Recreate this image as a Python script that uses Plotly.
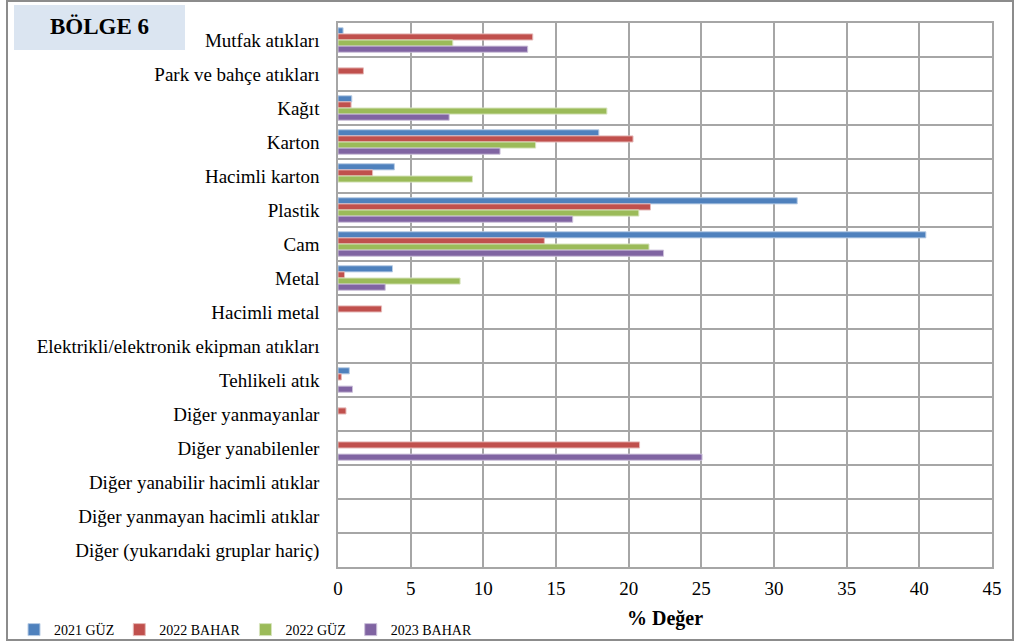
import plotly.graph_objects as go

categories = [
    "Mutfak atıkları",
    "Park ve bahçe atıkları",
    "Kağıt",
    "Karton",
    "Hacimli karton",
    "Plastik",
    "Cam",
    "Metal",
    "Hacimli metal",
    "Elektrikli/elektronik ekipman atıkları",
    "Tehlikeli atık",
    "Diğer yanmayanlar",
    "Diğer yanabilenler",
    "Diğer yanabilir hacimli atıklar",
    "Diğer yanmayan hacimli atıklar",
    "Diğer (yukarıdaki gruplar hariç)",
]

series_names = ["2021 GÜZ", "2022 BAHAR", "2022 GÜZ", "2023 BAHAR"]

guz_2021 = [0.35, None, 0.95, 17.95, 3.88, 31.6, 40.45, 3.75, None, None, 0.78, None, None, None, None, None]
bahar_2022 = [13.4, 1.75, 0.9, 20.3, 2.38, 21.5, 14.2, 0.45, 3.0, None, 0.23, 0.55, 20.75, None, None, None]
guz_2022 = [7.9, None, 18.5, 13.6, 9.25, 20.7, 21.4, 8.4, None, None, None, None, None, None, None, None]
bahar_2023 = [13.05, None, 7.65, 11.15, None, 16.15, 22.4, 3.25, None, None, 1.0, None, 25.05, None, None, None]

series_values = [guz_2021, bahar_2022, guz_2022, bahar_2023]
colors = ["#4f81bd", "#c0504d", "#9bbb59", "#8064a2"]
edge_colors = ["#b9cde5", "#e6b9b8", "#d7e4bd", "#ccc1da"]

x_ticks = [0, 5, 10, 15, 20, 25, 30, 35, 40, 45]

FONT = "Liberation Serif"

fig = go.Figure()
for name, vals, c, ec in zip(series_names, series_values, colors, edge_colors):
    fig.add_trace(go.Bar(
        y=categories, x=vals, name=name, orientation="h",
        marker=dict(color=c, line=dict(color=ec, width=1)),
    ))

L, R, T, B = 338, 24, 23, 75
W, H = 1016, 642
pw, ph = W - L - R, H - T - B

def px(xp):
    return (xp - L) / pw

def py(yp):
    return (H - B - yp) / ph

fig.update_layout(
    width=W, height=H,
    margin=dict(l=L, r=R, t=T, b=B, pad=0, autoexpand=False),
    paper_bgcolor="white", plot_bgcolor="white",
    barmode="group", bargap=0.28, bargroupgap=0,
    font=dict(family=FONT, color="black", size=19),
    xaxis=dict(
        range=[0, 45], tickvals=x_ticks, showgrid=True, gridcolor="#a6a6a6", gridwidth=1.5,
        zeroline=False, showline=True, linecolor="#a6a6a6", linewidth=1.5, mirror=True,
        ticks="", tickfont=dict(size=19, family=FONT), ticklabelstandoff=3,
        title=dict(text="<b>% Değer</b>", font=dict(size=20, family=FONT), standoff=13),
        automargin=False,
    ),
    yaxis=dict(
        type="category", autorange="reversed", tickson="boundaries",
        showgrid=True, gridcolor="#a6a6a6", gridwidth=1.5,
        showline=True, linecolor="#a6a6a6", linewidth=1.5, mirror=True,
        ticks="", tickfont=dict(size=19, family=FONT), ticklabelstandoff=13,
        automargin=False,
    ),
    legend=dict(
        orientation="h", x=px(14), y=py(630), xanchor="left", yanchor="middle",
        font=dict(size=14, family=FONT), bgcolor="rgba(0,0,0,0)",
        itemwidth=30, tracegroupgap=0, traceorder="normal",
    ),
    showlegend=True,
)

# outer chart frame
fig.add_shape(type="rect", xref="paper", yref="paper",
              x0=px(7), x1=px(1013), y0=py(640), y1=py(1),
              line=dict(color="#8c8c8c", width=2), fillcolor="rgba(0,0,0,0)", layer="below")

# title box
fig.add_shape(type="rect", xref="paper", yref="paper",
              x0=px(14), x1=px(185), y0=py(50), y1=py(5),
              line=dict(width=0), fillcolor="#dbe5f1", layer="below")
fig.add_annotation(text="<b>BÖLGE 6</b>", xref="paper", yref="paper",
                   x=px(99), y=py(27), xanchor="center", yanchor="middle",
                   showarrow=False, font=dict(size=23, family=FONT, color="black"))

fig.write_html("out.html")
